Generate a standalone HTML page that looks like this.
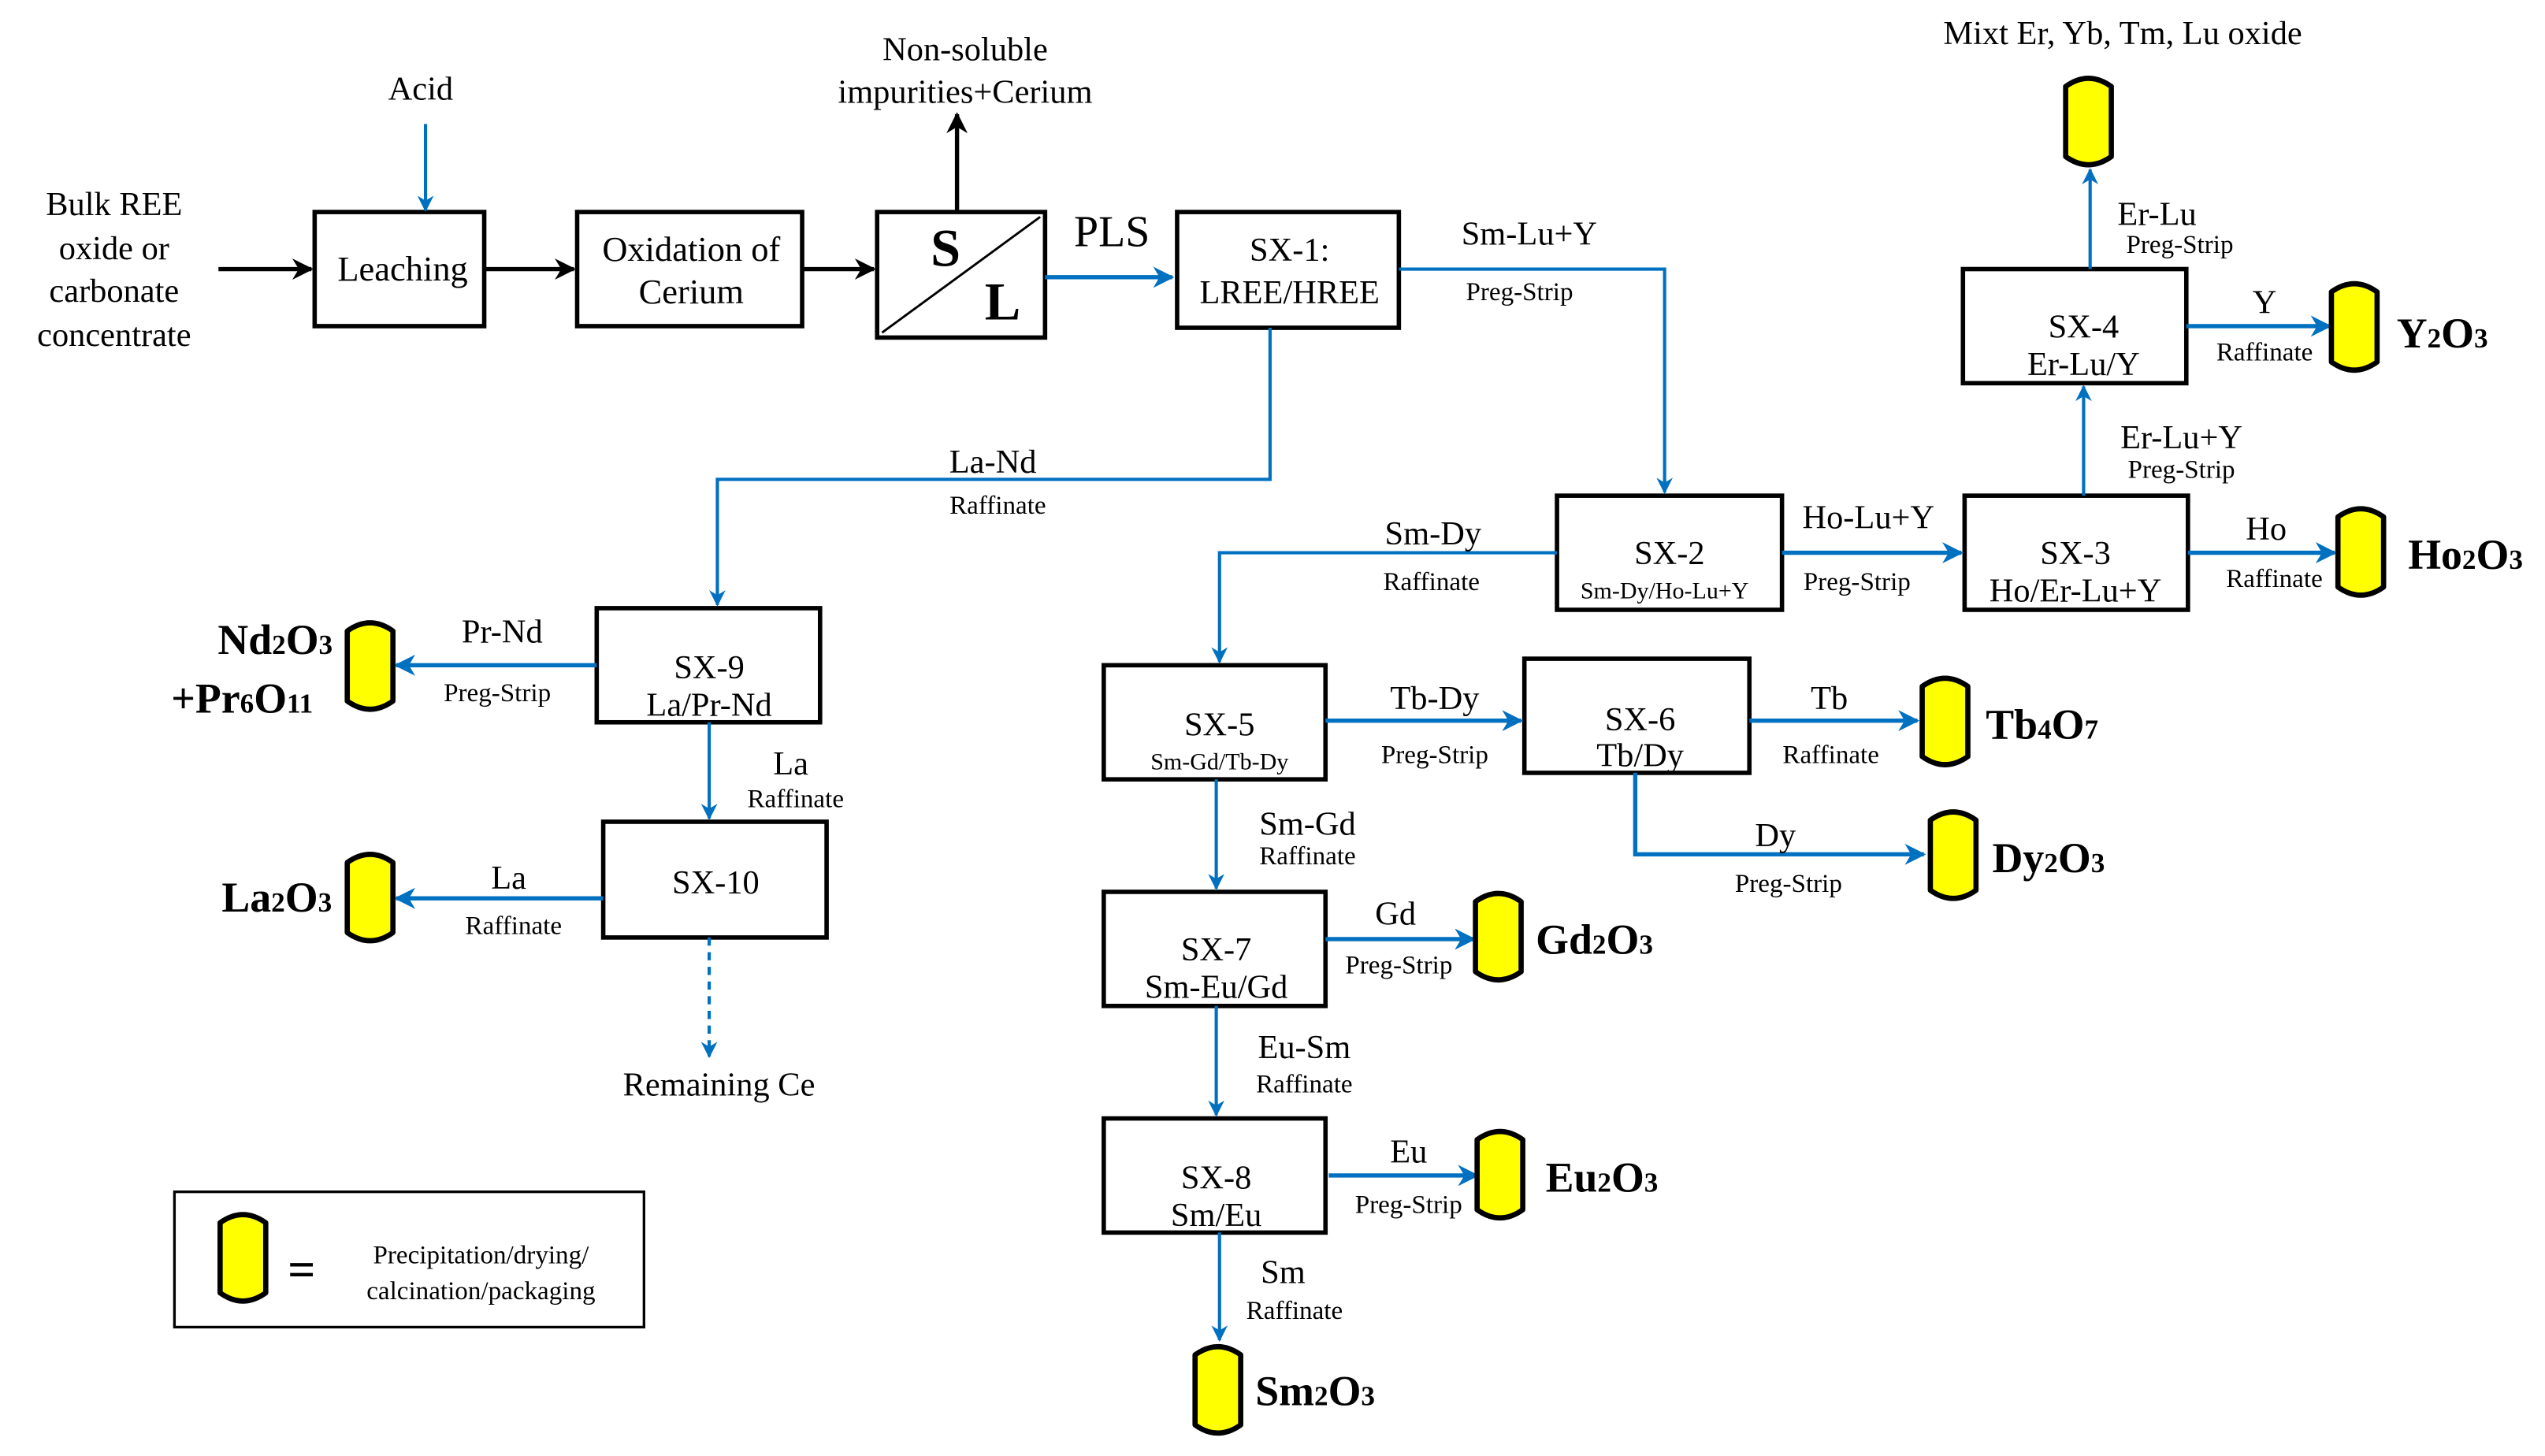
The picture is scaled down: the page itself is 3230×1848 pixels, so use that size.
<!DOCTYPE html>
<html><head><meta charset="utf-8"><style>html,body{margin:0;padding:0;background:#fff}svg{display:block}</style></head>
<body>
<svg width="3230" height="1848" viewBox="0 0 1561 893" xmlns="http://www.w3.org/2000/svg" font-family="'Liberation Serif', serif">
<defs>
<marker id="ab" viewBox="0 0 10 10" refX="9" refY="5" markerWidth="5" markerHeight="5" orient="auto"><path d="M0,0 L10,5 L0,10 L3,5 Z" fill="#0070C0"/></marker>
<marker id="ak" viewBox="0 0 10 10" refX="9" refY="5" markerWidth="5" markerHeight="5" orient="auto"><path d="M0,0 L10,5 L0,10 L3,5 Z" fill="#000"/></marker>
<g id="cyl"><path d="M0,7 Q14,-3 28,7 V50 Q14,60 0,50 Z" fill="#FFFF00" stroke="#000" stroke-width="3.2" stroke-linejoin="round"/></g>
</defs>
<rect width="1561" height="893" fill="#fff"/>
<g fill="none" stroke="#000" stroke-width="2.7">
<rect x="193" y="130" width="104" height="70"/>
<rect x="354" y="130" width="138" height="70"/>
<rect x="538" y="130" width="103" height="77"/>
<line x1="541" y1="204" x2="638" y2="133" stroke-width="1.4"/>
<rect x="722" y="130" width="136" height="71"/>
<rect x="366" y="373" width="137" height="70"/>
<rect x="370" y="504" width="137" height="71"/>
<rect x="955" y="304" width="138" height="70"/>
<rect x="1205" y="304" width="137" height="70"/>
<rect x="1204" y="165" width="137" height="70"/>
<rect x="677" y="408" width="136" height="70"/>
<rect x="935" y="404" width="138" height="70"/>
<rect x="677" y="547" width="136" height="70"/>
<rect x="677" y="686" width="136" height="70"/>
<rect x="107" y="731" width="288" height="83" stroke-width="1.6"/>
</g>
<g stroke="#000" stroke-width="2.6" fill="none">
<line x1="134" y1="165" x2="191" y2="165" marker-end="url(#ak)"/>
<line x1="297" y1="165" x2="352" y2="165" marker-end="url(#ak)"/>
<line x1="492" y1="165" x2="536" y2="165" marker-end="url(#ak)"/>
<line x1="587" y1="130" x2="587" y2="70" marker-end="url(#ak)"/>
</g>
<g stroke="#0070C0" fill="none" stroke-width="2.6">
<line x1="261" y1="76" x2="261" y2="129" stroke-width="2" marker-end="url(#ab)"/>
<line x1="641" y1="170" x2="719" y2="170" marker-end="url(#ab)"/>
<polyline points="779,201 779,294 440,294 440,371" stroke-width="2" marker-end="url(#ab)"/>
<polyline points="858,165 1021,165 1021,302" stroke-width="2" marker-end="url(#ab)"/>
<polyline points="955,339 748,339 748,406" stroke-width="2" marker-end="url(#ab)"/>
<line x1="1093" y1="339" x2="1203" y2="339" marker-end="url(#ab)"/>
<line x1="1342" y1="339" x2="1432" y2="339" marker-end="url(#ab)"/>
<line x1="1278" y1="304" x2="1278" y2="237" stroke-width="2" marker-end="url(#ab)"/>
<line x1="1282" y1="165" x2="1282" y2="104" stroke-width="2" marker-end="url(#ab)"/>
<line x1="1341" y1="200" x2="1429" y2="200" marker-end="url(#ab)"/>
<line x1="366" y1="408" x2="243" y2="408" marker-end="url(#ab)"/>
<line x1="435" y1="443" x2="435" y2="502" stroke-width="2" marker-end="url(#ab)"/>
<line x1="370" y1="551" x2="243" y2="551" marker-end="url(#ab)"/>
<line x1="435" y1="575" x2="435" y2="648" stroke-width="2" stroke-dasharray="5,4" marker-end="url(#ab)"/>
<line x1="813" y1="442" x2="933" y2="442" marker-end="url(#ab)"/>
<line x1="1073" y1="442" x2="1176" y2="442" marker-end="url(#ab)"/>
<polyline points="1003,474 1003,524 1180,524" marker-end="url(#ab)"/>
<line x1="746" y1="478" x2="746" y2="545" stroke-width="2" marker-end="url(#ab)"/>
<line x1="813" y1="576" x2="904" y2="576" marker-end="url(#ab)"/>
<line x1="746" y1="617" x2="746" y2="684" stroke-width="2" marker-end="url(#ab)"/>
<line x1="815" y1="721" x2="906" y2="721" marker-end="url(#ab)"/>
<line x1="748" y1="756" x2="748" y2="822" stroke-width="2" marker-end="url(#ab)"/>
</g>
<use href="#cyl" x="1267" y="46"/>
<use href="#cyl" x="1430" y="172"/>
<use href="#cyl" x="1434" y="310"/>
<use href="#cyl" x="213" y="380"/>
<use href="#cyl" x="213" y="522"/>
<use href="#cyl" x="1179" y="414"/>
<use href="#cyl" x="1184" y="496"/>
<use href="#cyl" x="905" y="546"/>
<use href="#cyl" x="906" y="692"/>
<use href="#cyl" x="733" y="824"/>
<use href="#cyl" x="135" y="743"/>
<g font-size="20.5" text-anchor="middle" fill="#000">
<text x="258" y="61">Acid</text>
<text x="70" y="132">Bulk REE</text>
<text x="70" y="159">oxide or</text>
<text x="70" y="185">carbonate</text>
<text x="70" y="212">concentrate</text>
<text x="247" y="172" font-size="21.5">Leaching</text>
<text x="424" y="160" font-size="21.5">Oxidation of</text>
<text x="424" y="186" font-size="21.5">Cerium</text>
<text x="592" y="37">Non-soluble</text>
<text x="592" y="63">impurities+Cerium</text>
<text x="580" y="163" font-size="33" font-weight="bold">S</text>
<text x="615" y="196" font-size="33" font-weight="bold">L</text>
<text x="682" y="151" font-size="27">PLS</text>
<text x="791" y="160">SX-1:</text>
<text x="791" y="186">LREE/HREE</text>
<text x="938" y="150">Sm-Lu+Y</text>
<text x="609" y="290">La-Nd</text>
<text x="879" y="334">Sm-Dy</text>
<text x="1146" y="324">Ho-Lu+Y</text>
<text x="1024" y="346">SX-2</text>
<text x="1273" y="346">SX-3</text>
<text x="1273" y="369">Ho/Er-Lu+Y</text>
<text x="1390" y="331">Ho</text>
<text x="1338" y="275">Er-Lu+Y</text>
<text x="1278" y="207">SX-4</text>
<text x="1278" y="230">Er-Lu/Y</text>
<text x="1323" y="138">Er-Lu</text>
<text x="1302" y="27">Mixt Er, Yb, Tm, Lu oxide</text>
<text x="1389" y="192">Y</text>
<text x="308" y="394">Pr-Nd</text>
<text x="435" y="416">SX-9</text>
<text x="435" y="439">La/Pr-Nd</text>
<text x="485" y="475">La</text>
<text x="439" y="548">SX-10</text>
<text x="312" y="545">La</text>
<text x="441" y="672">Remaining Ce</text>
<text x="748" y="451">SX-5</text>
<text x="880" y="435">Tb-Dy</text>
<text x="1006" y="448">SX-6</text>
<text x="1006" y="470">Tb/Dy</text>
<text x="1122" y="435">Tb</text>
<text x="1089" y="519">Dy</text>
<text x="802" y="512">Sm-Gd</text>
<text x="746" y="589">SX-7</text>
<text x="746" y="612">Sm-Eu/Gd</text>
<text x="856" y="567">Gd</text>
<text x="800" y="649">Eu-Sm</text>
<text x="746" y="729">SX-8</text>
<text x="746" y="752">Sm/Eu</text>
<text x="864" y="713">Eu</text>
<text x="787" y="787">Sm</text>
</g>
<g font-size="16" text-anchor="middle" fill="#000">
<text x="932" y="184">Preg-Strip</text>
<text x="612" y="315">Raffinate</text>
<text x="878" y="362">Raffinate</text>
<text x="1021" y="367" font-size="14.5">Sm-Dy/Ho-Lu+Y</text>
<text x="1139" y="362">Preg-Strip</text>
<text x="1395" y="360">Raffinate</text>
<text x="1338" y="293">Preg-Strip</text>
<text x="1337" y="155">Preg-Strip</text>
<text x="1389" y="221">Raffinate</text>
<text x="305" y="430">Preg-Strip</text>
<text x="488" y="495">Raffinate</text>
<text x="315" y="573">Raffinate</text>
<text x="748" y="472" font-size="14.5">Sm-Gd/Tb-Dy</text>
<text x="880" y="468">Preg-Strip</text>
<text x="1123" y="468">Raffinate</text>
<text x="1097" y="547">Preg-Strip</text>
<text x="802" y="530">Raffinate</text>
<text x="858" y="597">Preg-Strip</text>
<text x="800" y="670">Raffinate</text>
<text x="864" y="744">Preg-Strip</text>
<text x="794" y="809">Raffinate</text>
<text x="295" y="775">Precipitation/drying/</text>
<text x="295" y="797">calcination/packaging</text>
</g>
<text x="185" y="789" font-size="30" font-weight="bold" text-anchor="middle">=</text>
<g font-size="26" font-weight="bold" fill="#000">
<text x="1470" y="213">Y<tspan font-size="17">2</tspan>O<tspan font-size="17">3</tspan></text>
<text x="1477" y="349">Ho<tspan font-size="17">2</tspan>O<tspan font-size="17">3</tspan></text>
<text x="1218" y="453">Tb<tspan font-size="17">4</tspan>O<tspan font-size="17">7</tspan></text>
<text x="1222" y="535">Dy<tspan font-size="17">2</tspan>O<tspan font-size="17">3</tspan></text>
<text x="942" y="585">Gd<tspan font-size="17">2</tspan>O<tspan font-size="17">3</tspan></text>
<text x="948" y="731">Eu<tspan font-size="17">2</tspan>O<tspan font-size="17">3</tspan></text>
<text x="770" y="862">Sm<tspan font-size="17">2</tspan>O<tspan font-size="17">3</tspan></text>
<text x="136" y="559">La<tspan font-size="17">2</tspan>O<tspan font-size="17">3</tspan></text>
<text x="204" y="401" text-anchor="end">Nd<tspan font-size="17">2</tspan>O<tspan font-size="17">3</tspan></text>
<text x="105" y="437">+Pr<tspan font-size="17">6</tspan>O<tspan font-size="17">11</tspan></text>
</g>
</svg>
</body></html>
